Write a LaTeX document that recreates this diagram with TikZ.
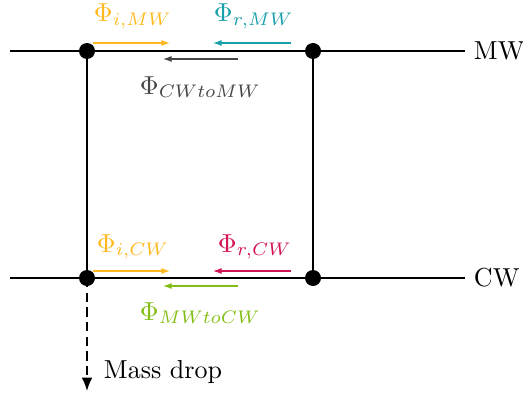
\documentclass[tikz,border=0pt]{standalone}
\usepackage{amsmath}
\usetikzlibrary{arrows.meta}
\definecolor{fluxyellow}{RGB}{255,185,30}
\definecolor{fluxteal}{RGB}{25,160,170}
\definecolor{fluxred}{RGB}{210,20,80}
\definecolor{fluxgreen}{RGB}{130,190,20}
\definecolor{fluxgray}{RGB}{70,70,70}
\tikzset{every picture/.style={line width=0.75pt}}

\begin{document}
\begin{tikzpicture}[x=0.75pt,y=0.75pt,yscale=-1,xscale=1,
  junction/.style={circle,fill=black,inner sep=0pt,minimum size=12pt},
  pipe/.style={line width=1.2pt},
  flux/.style={-{Latex[length=6.5pt,width=4.5pt]},line width=0.8pt},
  txt/.style={scale=1.95,inner sep=0pt},
  fluxlabel/.style={txt,anchor=base west}]
\useasboundingbox (0,0) rectangle (523,392);

%Pipes: main water (MW) and cold water (CW)
\coordinate (mwstart) at (10,51);
\coordinate (cwstart) at (10,278);
\node [txt,anchor=west] (mwlab) at (473,51) {MW};
\node [txt,anchor=west] (cwlab) at (473,278) {CW};
\draw [pipe] (mwstart) -- ([xshift=-6pt]mwlab.west);
\draw [pipe] (cwstart) -- ([xshift=-6pt]cwlab.west);

%Junctions
\node [junction] (mwA) at (87,51) {};
\node [junction] (mwB) at (313,51) {};
\node [junction] (cwA) at (87,278) {};
\node [junction] (cwB) at (313,278) {};
\draw [pipe] (mwA) -- (cwA);
\draw [pipe] (mwB) -- (cwB);

%Mass drop
\coordinate (drop) at (87,391);
\draw [pipe,dash pattern=on 7pt off 4pt,-{Latex[length=10pt,width=8pt]}] (cwA.center) -- (drop);
\node [txt,anchor=base west] (droplab) at (103,378) {Mass drop};

%Fluxes on MW
\coordinate (imws) at (93,43); \coordinate (imwe) at (170,43);
\coordinate (rmws) at (291,43); \coordinate (rmwe) at (213,43);
\coordinate (cmws) at (238,59); \coordinate (cmwe) at (163,59);
\draw [flux,fluxyellow] (imws) -- (imwe);
\draw [flux,fluxteal] (rmws) -- (rmwe);
\draw [flux,fluxgray] (cmws) -- (cmwe);
\node [fluxlabel,fluxyellow] (imwlab) at (93,22) {$\Phi_{i,MW}$};
\node [fluxlabel,fluxteal] (rmwlab) at (213,22) {$\Phi_{r,MW}$};
\node [fluxlabel,fluxgray] (cmwlab) at (139,94) {$\Phi_{CW to MW}$};

%Fluxes on CW
\coordinate (icws) at (93,271); \coordinate (icwe) at (170,271);
\coordinate (rcws) at (291,271); \coordinate (rcwe) at (213,271);
\coordinate (mcws) at (238,286); \coordinate (mcwe) at (163,286);
\draw [flux,fluxyellow] (icws) -- (icwe);
\draw [flux,fluxred] (rcws) -- (rcwe);
\draw [flux,fluxgreen] (mcws) -- (mcwe);
\node [fluxlabel,fluxyellow] (icwlab) at (96,252) {$\Phi_{i,CW}$};
\node [fluxlabel,fluxred] (rcwlab) at (217,252) {$\Phi_{r,CW}$};
\node [fluxlabel,fluxgreen] (mcwlab) at (139,320) {$\Phi_{MW to CW}$};

\end{tikzpicture}
\end{document}
